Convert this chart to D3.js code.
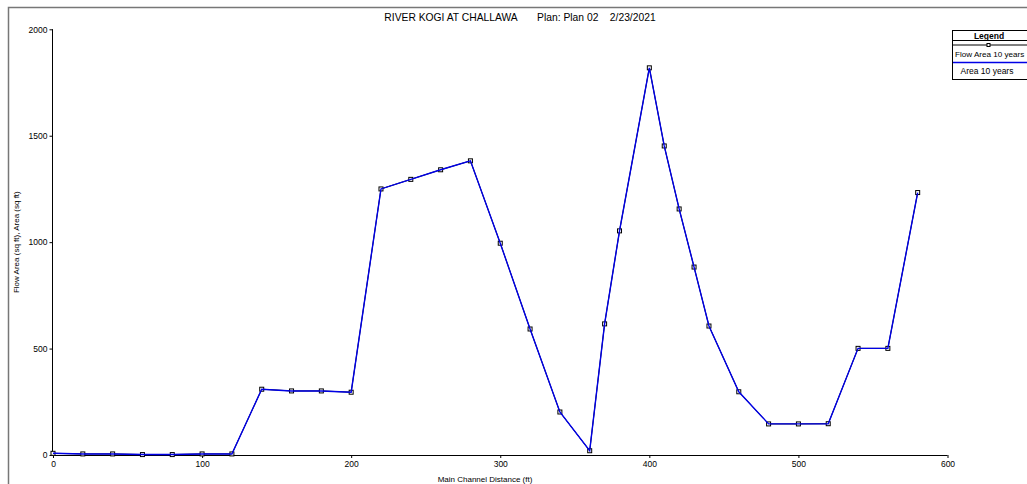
<!DOCTYPE html>
<html>
<head>
<meta charset="utf-8">
<script src="https://cdn.jsdelivr.net/npm/d3@7"></script>
<style>
  body { margin: 0; background: #fff; }
  svg { display: block; font-family: "Liberation Sans", Arial, sans-serif; }
  .axis path, .axis line { stroke: #000; }
  .axis text { font-size: 8.5px; fill: #000; }
</style>
</head>
<body>
<div id="chart"></div>
<script>
// main channel distance (ft)
var distances = [0, 20, 40, 60, 80, 100, 120, 140, 160, 180, 200, 220, 240, 260, 280, 300, 320, 340, 360,
                 370, 380, 400, 410, 420, 430, 440, 460, 480, 500, 520, 540, 560, 580];
// Flow Area 10 years (sq ft)
var flowArea = [8, 5, 5, 2, 2, 5, 5, 309, 301, 301, 295, 1250, 1295, 1340, 1382, 995, 592, 202, 20,
                616, 1053, 1819, 1452, 1156, 883, 606, 297, 146, 146, 147, 501, 501, 1233];
// Area 10 years (sq ft)
var area = [8, 5, 5, 2, 2, 5, 5, 309, 301, 301, 295, 1250, 1295, 1340, 1382, 995, 592, 202, 20,
            616, 1053, 1819, 1452, 1156, 883, 606, 297, 146, 146, 147, 501, 501, 1233];
var xMajor = [0, 100, 200, 300, 400, 500, 600];
var yMajor = [0, 500, 1000, 1500, 2000];

var width = 1027, height = 484;

var svg = d3.select('#chart').append('svg')
    .attr('width', width)
    .attr('height', height);

// outer frame
svg.append('path')
    .attr('d', 'M8.5,' + height + 'V7.5H' + width)
    .attr('fill', 'none')
    .attr('stroke', '#777')
    .attr('stroke-width', 1.5);

var x = d3.scaleLinear().domain([0, 600]).range([53, 947.5]);
var y = d3.scaleLinear().domain([0, 2000]).range([455, 29.3]);

// title
svg.append('text')
    .attr('x', 520)
    .attr('y', 20.5)
    .attr('text-anchor', 'middle')
    .attr('font-size', '10.3px')
    .style('white-space', 'pre')
    .text('RIVER KOGI AT CHALLAWA       Plan: Plan 02    2/23/2021');

// axes
var xAxis = svg.append('g').attr('class', 'axis')
    .attr('transform', 'translate(0,' + y(0) + ')');
xAxis.call(d3.axisBottom(x).tickValues(d3.range(0, 601, 20)).tickSize(3).tickFormat(''));
xAxis.call(d3.axisBottom(x).tickValues(xMajor).tickSize(3).tickPadding(3).tickFormat(d3.format('d')));
xAxis.select('.domain').attr('d', 'M' + x(0) + ',0.5H' + x(600));

var yAxis = svg.append('g').attr('class', 'axis')
    .attr('transform', 'translate(' + x(0) + ',0)');
yAxis.call(d3.axisLeft(y).tickValues(d3.range(0, 2001, 100)).tickSize(2).tickFormat(''));
yAxis.call(d3.axisLeft(y).tickValues(yMajor).tickSize(3.5).tickPadding(2).tickFormat(d3.format('d')));
yAxis.selectAll('.domain').attr('d', 'M-0.5,' + y(2000) + 'V' + y(0));

// axis titles
svg.append('text')
    .attr('x', 485)
    .attr('y', 482)
    .attr('text-anchor', 'middle')
    .attr('font-size', '8px')
    .text('Main Channel Distance (ft)');

svg.append('text')
    .attr('transform', 'translate(19,' + y(1000) + ') rotate(-90)')
    .attr('text-anchor', 'middle')
    .attr('font-size', '8px')
    .text('Flow Area (sq ft), Area (sq ft)');

// series
var seriesLine = d3.line()
    .x(function(d, i) { return x(distances[i]); })
    .y(function(d) { return y(d); });

svg.append('path')
    .datum(flowArea)
    .attr('d', seriesLine)
    .attr('fill', 'none')
    .attr('stroke', '#000')
    .attr('stroke-width', 1);

svg.selectAll('rect.marker')
    .data(flowArea)
    .enter().append('rect')
    .classed('marker', true)
    .attr('x', function(d, i) { return x(distances[i]) - 2; })
    .attr('y', function(d) { return y(d) - 2; })
    .attr('width', 4)
    .attr('height', 4)
    .attr('fill', '#fff')
    .attr('stroke', '#000')
    .attr('stroke-width', 1);

svg.append('path')
    .datum(area)
    .attr('d', seriesLine)
    .attr('fill', 'none')
    .attr('stroke', '#0000e6')
    .attr('stroke-width', 1.4);

// legend
var legend = svg.append('g').attr('transform', 'translate(952,30)');
legend.append('rect')
    .attr('x', 0.5).attr('y', 0.5)
    .attr('width', 80).attr('height', 49)
    .attr('fill', '#fff')
    .attr('stroke', '#000');
legend.append('text')
    .attr('x', 37).attr('y', 8.5)
    .attr('text-anchor', 'middle')
    .attr('font-size', '8.5px')
    .attr('font-weight', 'bold')
    .text('Legend');
legend.append('line')
    .attr('x1', 0).attr('x2', 80).attr('y1', 10.5).attr('y2', 10.5)
    .attr('stroke', '#000');
legend.append('line')
    .attr('x1', 1).attr('x2', 80).attr('y1', 15).attr('y2', 15)
    .attr('stroke', '#000');
legend.append('rect')
    .attr('x', 35).attr('y', 13.5).attr('width', 3).attr('height', 3)
    .attr('fill', '#fff').attr('stroke', '#000');
legend.append('text')
    .attr('x', 3).attr('y', 27)
    .attr('font-size', '8.1px')
    .text('Flow Area 10 years');
legend.append('line')
    .attr('x1', 1).attr('x2', 80).attr('y1', 32.5).attr('y2', 32.5)
    .attr('stroke', '#0000e6').attr('stroke-width', 1.3);
legend.append('text')
    .attr('x', 35).attr('y', 44)
    .attr('text-anchor', 'middle')
    .attr('font-size', '8.5px')
    .text('Area 10 years');
</script>
</body>
</html>
